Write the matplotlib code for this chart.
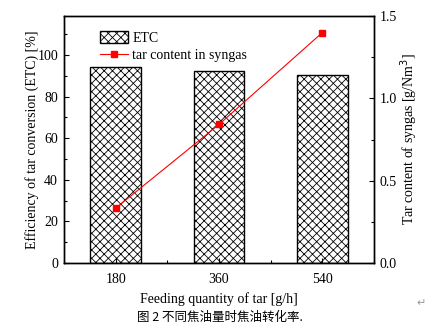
import matplotlib
matplotlib.use("Agg")
import matplotlib.pyplot as plt
from matplotlib.ticker import MultipleLocator

# 数据
feed = [180, 360, 540]
etc = [94.2, 92.3, 90.2]
tar_content = [0.333, 0.842, 1.40]

plt.rcParams.update({
    "font.family": ["Liberation Serif", "DejaVu Serif"],
    "font.size": 10,
    "hatch.linewidth": 0.6,
})

fig = plt.figure(figsize=(4.4, 3.29), dpi=100)
ax = fig.add_axes([0.1455, 0.2006, 0.7045, 0.7504])

ax.bar(feed, etc, width=88, color="white", edgecolor="black", hatch="xxxx",
       linewidth=1.0, label="ETC")
ax.set_xlim(90, 630)
ax.set_ylim(0, 118.75)
ax.set_xticks(feed)
ax.xaxis.set_minor_locator(MultipleLocator(90))
ax.yaxis.set_major_locator(MultipleLocator(20))
ax.yaxis.set_minor_locator(MultipleLocator(10))
ax.set_xlabel("Feeding quantity of tar [g/h]", labelpad=4)
ax.set_ylabel("Efficiency of tar conversion (ETC) [%]", labelpad=-1)

ax2 = ax.twinx()
ax2.plot(feed, tar_content, color="red", linewidth=0.8, marker="s",
         markersize=4.5, label="tar content in syngas")
ax2.set_ylim(0, 1.5)
ax2.yaxis.set_major_locator(MultipleLocator(0.5))
ax2.yaxis.set_minor_locator(MultipleLocator(0.25))
ax2.yaxis.set_major_formatter(lambda v, p: f"{v:.1f}")
ax2.set_ylabel("Tar content of syngas [g/Nm$^3$]", labelpad=1)

for a in (ax, ax2):
    a.tick_params(which="major", direction="in", length=3.6, width=0.8, pad=4.3)
    a.tick_params(which="minor", direction="in", length=2, width=0.8)
    for s in a.spines.values():
        s.set_linewidth(1.0)
ax.tick_params(axis="x", which="major", pad=7.5)
ax.tick_params(axis="y", which="both", right=False)
ax.tick_params(axis="x", which="both", top=False)

h1, l1 = ax.get_legend_handles_labels()
h2, l2 = ax2.get_legend_handles_labels()
ax.legend(h1 + h2, l1 + l2, loc="upper left", bbox_to_anchor=(0.117, 0.94),
          frameon=False, fontsize=10, handlelength=2.0, handleheight=0.95,
          handletextpad=0.3, labelspacing=0.25, borderpad=0, borderaxespad=0)

fig.text(0.5, 0.035, "图 2 不同焦油量时焦油转化率.", ha="center", va="center",
         fontsize=9, family=["Noto Sans CJK SC", "DejaVu Sans"])
fig.text(0.958, 0.08, "↵", ha="center", va="center", fontsize=8, color="#999999",
         family=["DejaVu Sans"])

fig.savefig("out.png", dpi=100)
